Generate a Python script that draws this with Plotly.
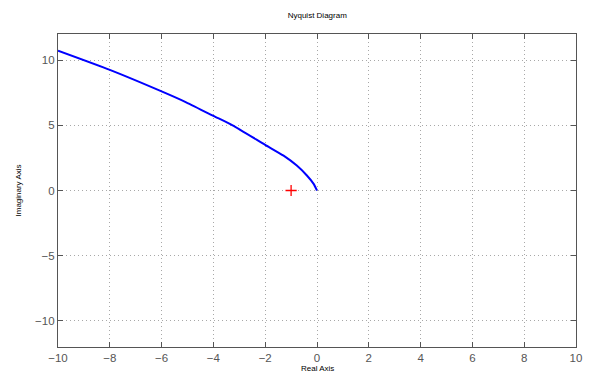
import plotly.graph_objects as go

# Nyquist curve
re_vals = [-10.0, -8.0, -6.0, -5.09, -4.0, -3.26, -2.0, -1.29, -0.78, -0.39, -0.13, 0.0]
im_vals = [10.72, 9.25, 7.6, 6.8, 5.72, 5.0, 3.5, 2.67, 1.91, 1.15, 0.51, 0.0]

# critical point
crit_re = [-1.0]
crit_im = [0.0]

x_ticks = [-10, -8, -6, -4, -2, 0, 2, 4, 6, 8, 10]
y_ticks = [-10, -5, 0, 5, 10]

fig = go.Figure()
fig.add_trace(go.Scatter(x=re_vals, y=im_vals, mode="lines",
                         line=dict(color="#0000ff", width=2, shape="spline", smoothing=0.5),
                         showlegend=False))
fig.add_trace(go.Scatter(x=crit_re, y=crit_im, mode="markers",
                         marker=dict(symbol="cross-thin", size=8,
                                     line=dict(color="#ff0000", width=1.3)),
                         showlegend=False))

axis_common = dict(
    showgrid=True, gridcolor="#a8a8a8", griddash="1px,3px", gridwidth=1,
    zeroline=False, showline=True, linecolor="#555555", linewidth=1.3,
    mirror="ticks", ticks="inside", ticklen=5, tickcolor="#555555",
    automargin=False,
    tickfont=dict(family="Liberation Sans, Arial, sans-serif", size=11.5, color="#555555"),
)

fig.update_xaxes(range=[-10, 10], tickvals=x_ticks, **axis_common)
fig.update_yaxes(range=[-12, 12], tickvals=y_ticks, **axis_common)

fig.update_layout(
    width=593, height=371,
    margin=dict(l=58, r=17, t=34, b=24),
    paper_bgcolor="white", plot_bgcolor="white",
    title=dict(text="Nyquist Diagram", x=0.535, xanchor="center", y=1 - 15 / 371,
               yanchor="middle",
               font=dict(family="Liberation Sans, Arial, sans-serif", size=8, color="#000000")),
    annotations=[
        dict(text="Real Axis", xref="paper", yref="paper", x=0.5, y=0,
             yanchor="middle", xanchor="center", yshift=-21, showarrow=False,
             font=dict(family="Liberation Sans, Arial, sans-serif", size=8, color="#000000")),
        dict(text="Imaginary Axis", xref="paper", yref="paper", x=0, y=0.5,
             xanchor="center", yanchor="middle", xshift=-40, textangle=-90, showarrow=False,
             font=dict(family="Liberation Sans, Arial, sans-serif", size=8, color="#000000")),
    ],
)

fig.write_html("out.html")
